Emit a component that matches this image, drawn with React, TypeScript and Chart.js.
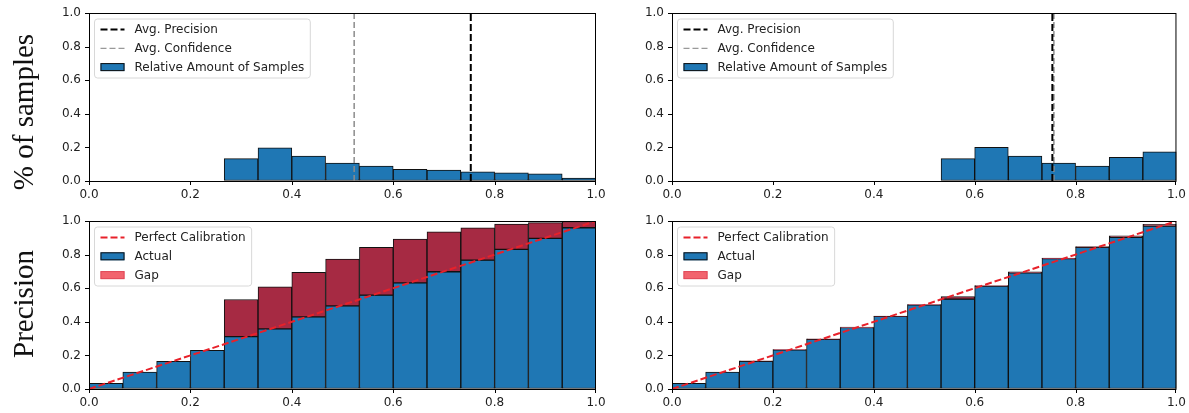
import React, { useEffect, useRef } from 'react';
import { Chart, registerables } from 'chart.js';

Chart.register(...registerables);

// ---------- data ----------
const binCenters = [0.0333, 0.1, 0.1667, 0.2333, 0.3, 0.3667, 0.4333, 0.5, 0.5667, 0.6333, 0.7, 0.7667, 0.8333, 0.9, 0.9667];
const xTicks = [0, 0.2, 0.4, 0.6, 0.8, 1.0];
const yTicks = [0, 0.2, 0.4, 0.6, 0.8, 1.0];

const leftSamples = [0, 0, 0, 0, 0.133, 0.198, 0.149, 0.107, 0.089, 0.07, 0.065, 0.055, 0.049, 0.043, 0.018];
const rightSamples = [0, 0, 0, 0, 0, 0, 0, 0, 0.133, 0.2, 0.149, 0.107, 0.089, 0.141, 0.173];

const leftAvgPrecision = 0.753;
const leftAvgConfidence = 0.523;
const rightAvgPrecision = 0.754;
const rightAvgConfidence = 0.757;

const leftActual = [0.034, 0.1, 0.165, 0.23, 0.312, 0.358, 0.429, 0.495, 0.559, 0.632, 0.698, 0.767, 0.831, 0.897, 0.96];
const leftGapTop = [0.034, 0.1, 0.165, 0.23, 0.533, 0.608, 0.694, 0.773, 0.843, 0.893, 0.935, 0.959, 0.981, 0.99, 0.997];

const rightActual = [0.034, 0.1, 0.165, 0.233, 0.296, 0.366, 0.432, 0.501, 0.535, 0.612, 0.692, 0.776, 0.843, 0.903, 0.97];
const rightGapTop = [0.034, 0.1, 0.168, 0.235, 0.298, 0.368, 0.434, 0.503, 0.55, 0.615, 0.698, 0.78, 0.848, 0.912, 0.98];

const calibrationX = [0, 1];
const calibrationY = [0, 1];

const rowLabels = ['% of samples', 'Precision'];
const sampleLegend = ['Avg. Precision', 'Avg. Confidence', 'Relative Amount of Samples'];
const precisionLegend = ['Perfect Calibration', 'Actual', 'Gap'];

// ---------- styles ----------
const BLUE = '#1f77b4';
const GAP = '#a62a43';
const GAP_LEGEND = '#f2646e';
const EDGE = '#111111';
const FONT = 'DejaVu Sans';
const TEXT = '#222222';
const TICK_LEN = 4;

// ---------- plugins ----------
const framePlugin = {
  id: 'frame',
  afterDatasetsDraw(chart: any) {
    const { ctx, chartArea: a, scales } = chart;
    ctx.save();
    ctx.strokeStyle = '#000';
    ctx.lineWidth = 1;
    ctx.setLineDash([]);
    ctx.strokeRect(a.left + 0.5, a.top + 0.5, a.right - a.left - 1, a.bottom - a.top);
    ctx.beginPath();
    xTicks.forEach((v) => {
      const px = Math.round(scales.x.getPixelForValue(v)) + (v === 1 ? -0.5 : 0.5);
      ctx.moveTo(px, a.bottom);
      ctx.lineTo(px, a.bottom + TICK_LEN);
    });
    yTicks.forEach((v) => {
      const py = Math.round(scales.y.getPixelForValue(v)) + 0.5;
      ctx.moveTo(a.left - TICK_LEN, py);
      ctx.lineTo(a.left, py);
    });
    ctx.stroke();
    ctx.restore();
  },
};

const innerLegendPlugin = {
  id: 'innerLegend',
  afterDraw(chart: any, _args: any, opts: any) {
    const items = opts && opts.items;
    if (!items) return;
    const { ctx, chartArea } = chart;
    ctx.save();
    ctx.font = `12px "${FONT}"`;
    const textW = Math.max(...items.map((it: any) => ctx.measureText(it.label).width));
    const x0 = chartArea.left + 5.5;
    const y0 = chartArea.top + 6;
    const w = 40 + textW + 6;
    const h = 59;
    const r = 3;
    ctx.beginPath();
    ctx.moveTo(x0 + r, y0);
    ctx.lineTo(x0 + w - r, y0);
    ctx.quadraticCurveTo(x0 + w, y0, x0 + w, y0 + r);
    ctx.lineTo(x0 + w, y0 + h - r);
    ctx.quadraticCurveTo(x0 + w, y0 + h, x0 + w - r, y0 + h);
    ctx.lineTo(x0 + r, y0 + h);
    ctx.quadraticCurveTo(x0, y0 + h, x0, y0 + h - r);
    ctx.lineTo(x0, y0 + r);
    ctx.quadraticCurveTo(x0, y0, x0 + r, y0);
    ctx.closePath();
    ctx.fillStyle = 'rgba(255,255,255,0.85)';
    ctx.fill();
    ctx.strokeStyle = '#d8d8d8';
    ctx.lineWidth = 1;
    ctx.stroke();
    items.forEach((it: any, i: number) => {
      const cy = y0 + 10.5 + i * 18.8;
      if (it.kind === 'line') {
        ctx.beginPath();
        ctx.setLineDash(it.dash);
        ctx.strokeStyle = it.color;
        ctx.lineWidth = it.width;
        ctx.moveTo(x0 + 6, cy);
        ctx.lineTo(x0 + 30, cy);
        ctx.stroke();
        ctx.setLineDash([]);
      } else {
        ctx.fillStyle = it.color;
        ctx.fillRect(x0 + 6, cy - 4, 24, 8);
        ctx.strokeStyle = it.edge;
        ctx.lineWidth = 1;
        ctx.strokeRect(x0 + 6.5, cy - 3.5, 23, 7);
      }
      ctx.fillStyle = TEXT;
      ctx.textBaseline = 'middle';
      ctx.textAlign = 'left';
      ctx.fillText(it.label, x0 + 40, cy + 0.5);
    });
    ctx.restore();
  },
};

// ---------- config builders ----------
function scalesConfig(yWidth: number) {
  const tickFont = { family: FONT, size: 12 };
  const hiddenGrid = {
    display: true,
    offset: false,
    drawOnChartArea: false,
    drawTicks: true,
    tickLength: TICK_LEN,
    color: 'rgba(0,0,0,0)',
    tickColor: 'rgba(0,0,0,0)',
  };
  return {
    x: {
      type: 'linear',
      min: 0,
      max: 1,
      offset: false,
      afterBuildTicks: (s: any) => {
        s.ticks = xTicks.map((v) => ({ value: v }));
      },
      afterFit: (s: any) => {
        s.height = 24;
      },
      grid: hiddenGrid,
      border: { display: false },
      ticks: {
        callback: (v: any) => Number(v).toFixed(1),
        font: tickFont,
        color: TEXT,
        padding: 3,
        maxRotation: 0,
        autoSkip: false,
      },
    },
    y: {
      type: 'linear',
      min: 0,
      max: 1,
      afterBuildTicks: (s: any) => {
        s.ticks = yTicks.map((v) => ({ value: v }));
      },
      afterFit: (s: any) => {
        s.width = yWidth;
      },
      grid: hiddenGrid,
      border: { display: false },
      ticks: {
        callback: (v: any) => Number(v).toFixed(1),
        font: tickFont,
        color: TEXT,
        padding: 4,
        autoSkip: false,
      },
    },
  };
}

function histogramConfig(samples: number[], avgPrec: number, avgConf: number, yWidth: number, padRight: number, padTop: number) {
  return {
    type: 'bar',
    data: {
      datasets: [
        {
          type: 'line',
          label: sampleLegend[0],
          data: [{ x: avgPrec, y: 0 }, { x: avgPrec, y: 1 }],
          borderColor: '#000',
          borderWidth: 2,
          borderDash: [7, 3],
          pointRadius: 0,
          fill: false,
          order: 0,
        },
        {
          type: 'line',
          label: sampleLegend[1],
          data: [{ x: avgConf, y: 0 }, { x: avgConf, y: 1 }],
          borderColor: '#8c8c8c',
          borderWidth: 1.5,
          borderDash: [6, 3],
          pointRadius: 0,
          fill: false,
          order: 0,
        },
        {
          type: 'bar',
          label: sampleLegend[2],
          data: binCenters.map((x, i) => ({ x, y: samples[i] })),
          backgroundColor: BLUE,
          borderColor: EDGE,
          borderWidth: 1,
          borderSkipped: false,
          barPercentage: 1,
          categoryPercentage: 1,
          grouped: false,
          order: 1,
        },
      ],
    },
    options: {
      animation: false,
      responsive: false,
      events: [],
      layout: { padding: { left: 0, right: padRight, top: padTop, bottom: 0 } },
      plugins: {
        legend: { display: false },
        tooltip: { enabled: false },
        innerLegend: {
          items: [
            { kind: 'line', label: sampleLegend[0], color: '#000', width: 2, dash: [7, 3] },
            { kind: 'line', label: sampleLegend[1], color: '#999', width: 1.2, dash: [6, 3] },
            { kind: 'box', label: sampleLegend[2], color: BLUE, edge: EDGE },
          ],
        },
      },
      scales: scalesConfig(yWidth),
    },
    plugins: [framePlugin, innerLegendPlugin],
  };
}

function precisionConfig(actual: number[], gapTop: number[], yWidth: number, padRight: number, padTop: number) {
  return {
    type: 'bar',
    data: {
      datasets: [
        {
          type: 'line',
          label: precisionLegend[0],
          data: calibrationX.map((x, i) => ({ x, y: calibrationY[i] })),
          borderColor: '#e8212a',
          borderWidth: 2,
          borderDash: [7, 3],
          pointRadius: 0,
          fill: false,
          order: 0,
        },
        {
          type: 'bar',
          label: precisionLegend[1],
          data: binCenters.map((x, i) => ({ x, y: actual[i] })),
          backgroundColor: BLUE,
          borderColor: EDGE,
          borderWidth: 1,
          borderSkipped: false,
          barPercentage: 1,
          categoryPercentage: 1,
          grouped: false,
          order: 2,
        },
        {
          type: 'bar',
          label: precisionLegend[2],
          data: binCenters.map((x, i) => ({ x, y: [actual[i], gapTop[i]] })),
          backgroundColor: GAP,
          borderColor: EDGE,
          borderWidth: 1,
          borderSkipped: false,
          barPercentage: 1,
          categoryPercentage: 1,
          grouped: false,
          order: 1,
        },
      ],
    },
    options: {
      animation: false,
      responsive: false,
      events: [],
      layout: { padding: { left: 0, right: padRight, top: padTop, bottom: 0 } },
      plugins: {
        legend: { display: false },
        tooltip: { enabled: false },
        innerLegend: {
          items: [
            { kind: 'line', label: precisionLegend[0], color: '#e8212a', width: 2, dash: [7, 3] },
            { kind: 'box', label: precisionLegend[1], color: BLUE, edge: EDGE },
            { kind: 'box', label: precisionLegend[2], color: GAP_LEGEND, edge: '#e04a5a' },
          ],
        },
      },
      scales: scalesConfig(yWidth),
    },
    plugins: [framePlugin, innerLegendPlugin],
  };
}

// ---------- components ----------
function ChartPanel(props: { left: number; top: number; width: number; height: number; config: any }) {
  const ref = useRef<HTMLCanvasElement>(null);
  useEffect(() => {
    const chart = new Chart(ref.current as HTMLCanvasElement, props.config);
    return () => chart.destroy();
  }, []);
  return (
    <canvas
      ref={ref}
      width={props.width}
      height={props.height}
      style={{ position: 'absolute', left: props.left, top: props.top, width: props.width, height: props.height }}
    />
  );
}

function RowLabel(props: { text: string; cx: number; cy: number }) {
  return (
    <div
      style={{
        position: 'absolute',
        left: props.cx - 110,
        top: props.cy - 17,
        width: 220,
        height: 34,
        lineHeight: '34px',
        textAlign: 'center',
        fontFamily: '"Liberation Serif", "Times New Roman", serif',
        fontSize: 29,
        color: '#111',
        whiteSpace: 'nowrap',
        transform: 'rotate(-90deg)',
      }}
    >
      {props.text}
    </div>
  );
}

export default function App() {
  return (
    <div style={{ position: 'absolute', left: 0, top: 0, width: 1189, height: 413, background: '#fff', overflow: 'hidden' }}>
      <ChartPanel left={0} top={0} width={610} height={205} config={histogramConfig(leftSamples, leftAvgPrecision, leftAvgConfidence, 89, 14, 13)} />
      <ChartPanel left={620} top={0} width={569} height={205} config={histogramConfig(rightSamples, rightAvgPrecision, rightAvgConfidence, 52, 10, 13)} />
      <ChartPanel left={0} top={205} width={610} height={208} config={precisionConfig(leftActual, leftGapTop, 89, 14, 16)} />
      <ChartPanel left={620} top={205} width={569} height={208} config={precisionConfig(rightActual, rightGapTop, 52, 10, 16)} />
      <RowLabel text={rowLabels[0]} cx={23} cy={112} />
      <RowLabel text={rowLabels[1]} cx={23} cy={303.5} />
    </div>
  );
}
